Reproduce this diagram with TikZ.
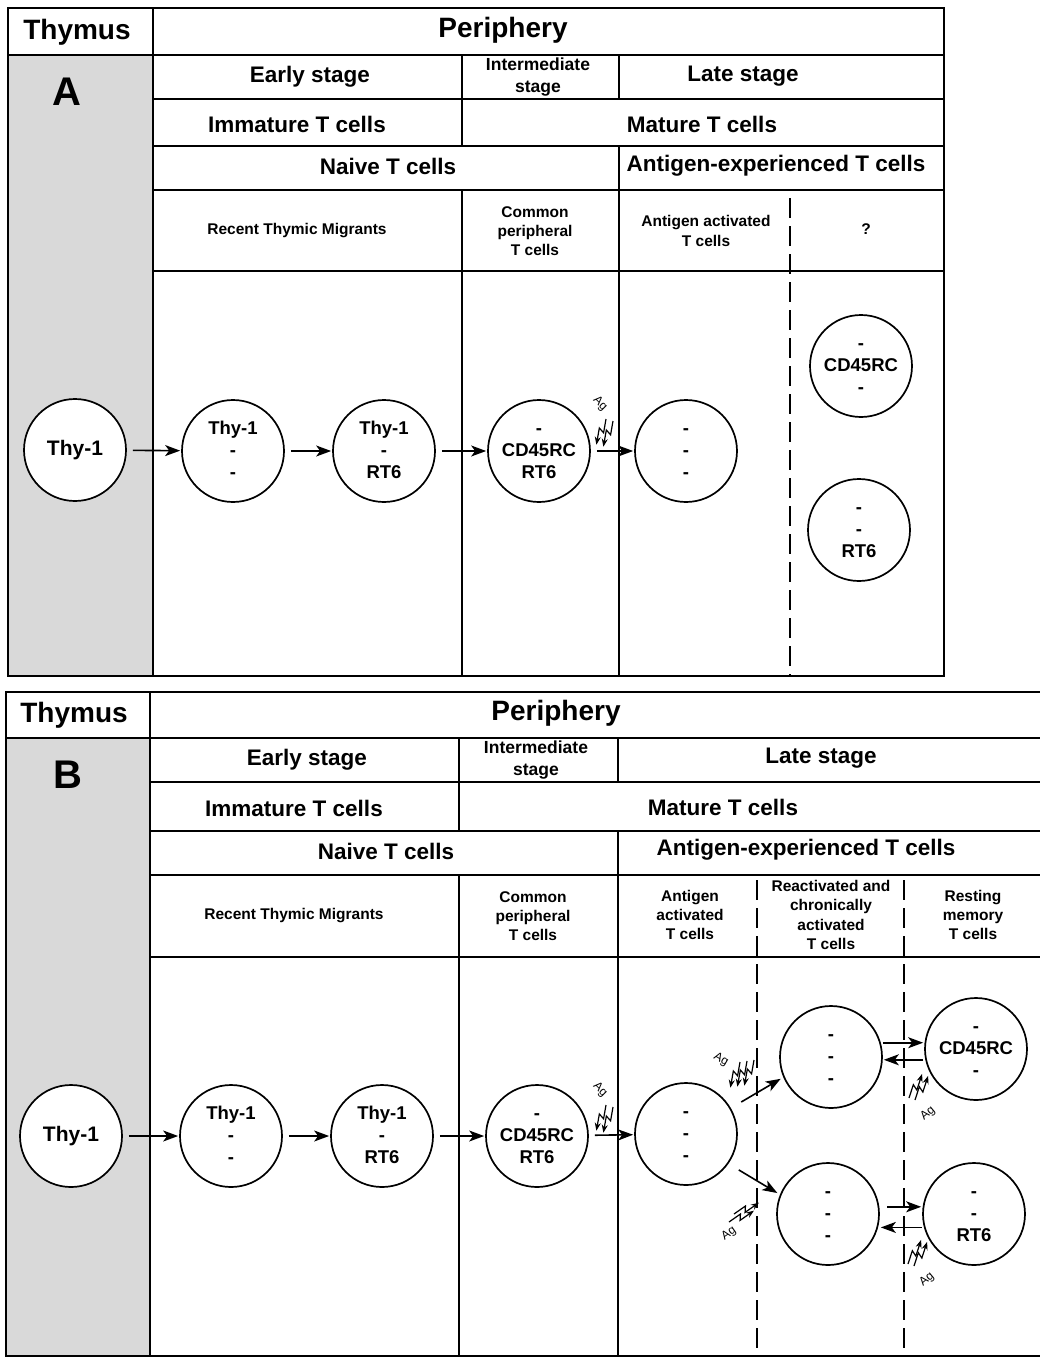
\documentclass[tikz,border=0pt]{standalone}
\usepackage{fontspec}
\setmainfont{Liberation Sans}
\usetikzlibrary{arrows.meta}

% font sizes (1pt = 1 unit of the drawing grid)
\newcommand\fntTitle{\fontsize{28}{32}\selectfont\bfseries}
\newcommand\fntHead{\fontsize{22.5}{26}\selectfont\bfseries}
\newcommand\fntMid{\fontsize{17.5}{22.5}\selectfont\bfseries}
\newcommand\fntLab{\fontsize{15.5}{19.2}\selectfont\bfseries}
\newcommand\fntCell{\fontsize{18.5}{22}\selectfont\bfseries}
\newcommand\fntCellBig{\fontsize{21}{24}\selectfont\bfseries}
\newcommand\fntLetter{\fontsize{40}{44}\selectfont\bfseries}
\newcommand\fntAg{\fontsize{12}{13}\selectfont}
% three stacked marker lines inside a cell
\newcommand\trio[3]{\rule{0pt}{14pt}#1\\#2\\#3\rule[-4pt]{0pt}{4pt}}

\tikzset{
  frame/.style={line width=1.8pt},
  divider/.style={line width=1.8pt, dash pattern=on 20pt off 8pt},
  shade/.style={fill=black!15},
  cell/.style={circle, draw, line width=1.7pt, fill=white, minimum size=102pt,
               inner sep=0pt, align=center, font=\fntCell},
  flow/.style={line width=1.6pt, -{Stealth[length=15pt,width=11pt,inset=4pt]},
               shorten <=6pt, shorten >=1pt},
  bolt/.pic={
    \draw[line width=1.2pt, -{Stealth[length=8pt,width=6pt]}]
      (0,0) -- (14,0) -- (10,5) -- (27,5);
  },
  agtext/.style={font=\fntAg, inner sep=0pt},
}

\begin{document}
\begin{tikzpicture}[x=1pt, y=-1pt]
\useasboundingbox (0,0) rectangle (1040,1358);
\fill[white] (0,0) rectangle (1040,1358);

% ================= Panel A =================
\fill[shade] (8,55) rectangle (153,676);
\draw[frame] (8,8) rectangle (944,676);
\draw[frame] (153,8) -- (153,676);
\draw[frame] (8,55) -- (944,55);
\draw[frame] (153,99) -- (944,99);
\draw[frame] (153,146) -- (944,146);
\draw[frame] (153,190) -- (944,190);
\draw[frame] (153,271) -- (944,271);
\draw[frame] (462,55) -- (462,146);
\draw[frame] (462,190) -- (462,676);
\draw[frame] (619,55) -- (619,99);
\draw[frame] (619,146) -- (619,676);
\draw[divider] (790,198) -- (790,676);

\node[font=\fntTitle] (thymusA) at (77,32) {Thymus};
\node[font=\fntTitle] (peripheryA) at (503,30) {Periphery};
\node[font=\fntLetter] (letterA) at (67,92) {A};
\node[font=\fntHead] (earlyA) at (310,77) {Early stage};
\node[font=\fntMid, align=center] (interA) at (538,77) {Intermediate\\stage};
\node[font=\fntHead] (lateA) at (743,76) {Late stage};
\node[font=\fntHead] (immA) at (297,124) {Immature T cells};
\node[font=\fntHead] (matA) at (702,124) {Mature T cells};
\node[font=\fntHead] (naiveA) at (388,166) {Naive T cells};
\node[font=\fntHead] (expA) at (776,166) {Antigen-experienced T cells};
\node[font=\fntLab] (rtmA) at (297,231) {Recent Thymic Migrants};
\node[font=\fntLab, align=center] (cptA) at (535,231) {Common\\peripheral\\T cells};
\node[font=\fntLab, align=center] (aatA) at (706,231) {Antigen activated\\T cells};
\node[font=\fntLab] (qA) at (866,229) {?};

\node[cell, font=\fntCellBig] (a1) at (75,450) {Thy-1};
\node[cell] (a2) at (233,451) {\trio{Thy-1}{-}{-}};
\node[cell] (a3) at (384,451) {\trio{Thy-1}{-}{RT6}};
\node[cell] (a4) at (539,451) {\trio{-}{CD45RC}{RT6}};
\node[cell] (a5) at (686,451) {\trio{-}{-}{-}};
\node[cell] (a6) at (861,366) {\trio{-}{CD45RC}{-}};
\node[cell] (a7) at (859,530) {\trio{-}{-}{RT6}};

\draw[flow] (a1) -- (a2);
\draw[flow] (a2) -- (a3);
\draw[flow] (a3) -- (a4);
\draw[flow] (a4) -- (a5);

% antigen stimulus
\node[agtext, rotate=-45] (agA) at (600,404) {Ag};
\pic[rotate=-100] at (606,419) {bolt};
\pic[rotate=-100] at (613,421) {bolt};

% ================= Panel B =================
\fill[shade] (6,738) rectangle (150,1356);
\draw[frame] (6,692) rectangle (1046,1356);
\draw[frame] (150,692) -- (150,1356);
\draw[frame] (6,738) -- (1046,738);
\draw[frame] (150,782) -- (1046,782);
\draw[frame] (150,831) -- (1046,831);
\draw[frame] (150,875) -- (1046,875);
\draw[frame] (150,957) -- (1046,957);
\draw[frame] (459,738) -- (459,831);
\draw[frame] (459,875) -- (459,1356);
\draw[frame] (618,738) -- (618,782);
\draw[frame] (618,831) -- (618,1356);
\draw[divider] (757,880) -- (757,1356);
\draw[divider] (904,880) -- (904,1356);

\node[font=\fntTitle] (thymusB) at (74,715) {Thymus};
\node[font=\fntTitle] (peripheryB) at (556,713) {Periphery};
\node[font=\fntLetter] (letterB) at (68,775) {B};
\node[font=\fntHead] (earlyB) at (307,760) {Early stage};
\node[font=\fntMid, align=center] (interB) at (536,760) {Intermediate\\stage};
\node[font=\fntHead] (lateB) at (821,758) {Late stage};
\node[font=\fntHead] (immB) at (294,808) {Immature T cells};
\node[font=\fntHead] (matB) at (723,807) {Mature T cells};
\node[font=\fntHead] (naiveB) at (386,851) {Naive T cells};
\node[font=\fntHead] (expB) at (806,850) {Antigen-experienced T cells};
\node[font=\fntLab] (rtmB) at (294,916) {Recent Thymic Migrants};
\node[font=\fntLab, align=center] (cptB) at (533,916) {Common\\peripheral\\T cells};
\node[font=\fntLab, align=center] (aatB) at (690,915) {Antigen\\activated\\T cells};
\node[font=\fntLab, align=center] (ractB) at (831,915) {Reactivated and\\chronically\\activated\\T cells};
\node[font=\fntLab, align=center] (restB) at (973,915) {Resting\\memory\\T cells};

\node[cell, font=\fntCellBig] (b1) at (71,1136) {Thy-1};
\node[cell] (b2) at (231,1136) {\trio{Thy-1}{-}{-}};
\node[cell] (b3) at (382,1136) {\trio{Thy-1}{-}{RT6}};
\node[cell] (b4) at (537,1136) {\trio{-}{CD45RC}{RT6}};
\node[cell] (b5) at (686,1134) {\trio{-}{-}{-}};
\node[cell] (b6) at (831,1057) {\trio{-}{-}{-}};
\node[cell] (b7) at (828,1214) {\trio{-}{-}{-}};
\node[cell] (b8) at (976,1049) {\trio{-}{CD45RC}{-}};
\node[cell] (b9) at (974,1214) {\trio{-}{-}{RT6}};

\draw[flow] (b1) -- (b2);
\draw[flow] (b2) -- (b3);
\draw[flow] (b3) -- (b4);
\draw[flow] (b4) -- (b5);
\draw[flow, shorten <=12pt, shorten >=3pt] (b5.30) -- (b6.-157);
\draw[flow, shorten <=12pt, shorten >=3pt] (b5.-35) -- (b7.158);
\draw[flow, shorten <=2pt] (b6.16) -- (b6.16 -| b8.west);
\draw[flow, shorten <=2pt] (b8.192) -- (b8.192 -| b6.east);
\draw[flow, shorten <=8pt] (b7.8) -- (b7.8 -| b9.west);
\draw[flow, shorten <=2pt] (b9.195) -- (b9.195 -| b7.east);

% antigen stimuli
\node[agtext, rotate=-45] (agB1) at (600,1090) {Ag};
\pic[rotate=-100] at (606,1105) {bolt};
\pic[rotate=-100] at (613,1107) {bolt};

\node[agtext, rotate=-30] (agB2) at (721,1060) {Ag};
\pic[rotate=-100] at (740,1062) {bolt};
\pic[rotate=-100] at (747,1061) {bolt};
\pic[rotate=-100] at (754,1060) {bolt};

\node[agtext, rotate=35] (agB3) at (729,1234) {Ag};
\pic[rotate=35] at (734,1214) {bolt};
\pic[rotate=35] at (729,1222) {bolt};

\node[agtext, rotate=40] (agB4) at (928,1114) {Ag};
\pic[rotate=72] at (909,1098) {bolt};
\pic[rotate=72] at (915,1100) {bolt};

\node[agtext, rotate=40] (agB5) at (927,1280) {Ag};
\pic[rotate=72] at (908,1264) {bolt};
\pic[rotate=72] at (914,1266) {bolt};
\end{tikzpicture}
\end{document}
